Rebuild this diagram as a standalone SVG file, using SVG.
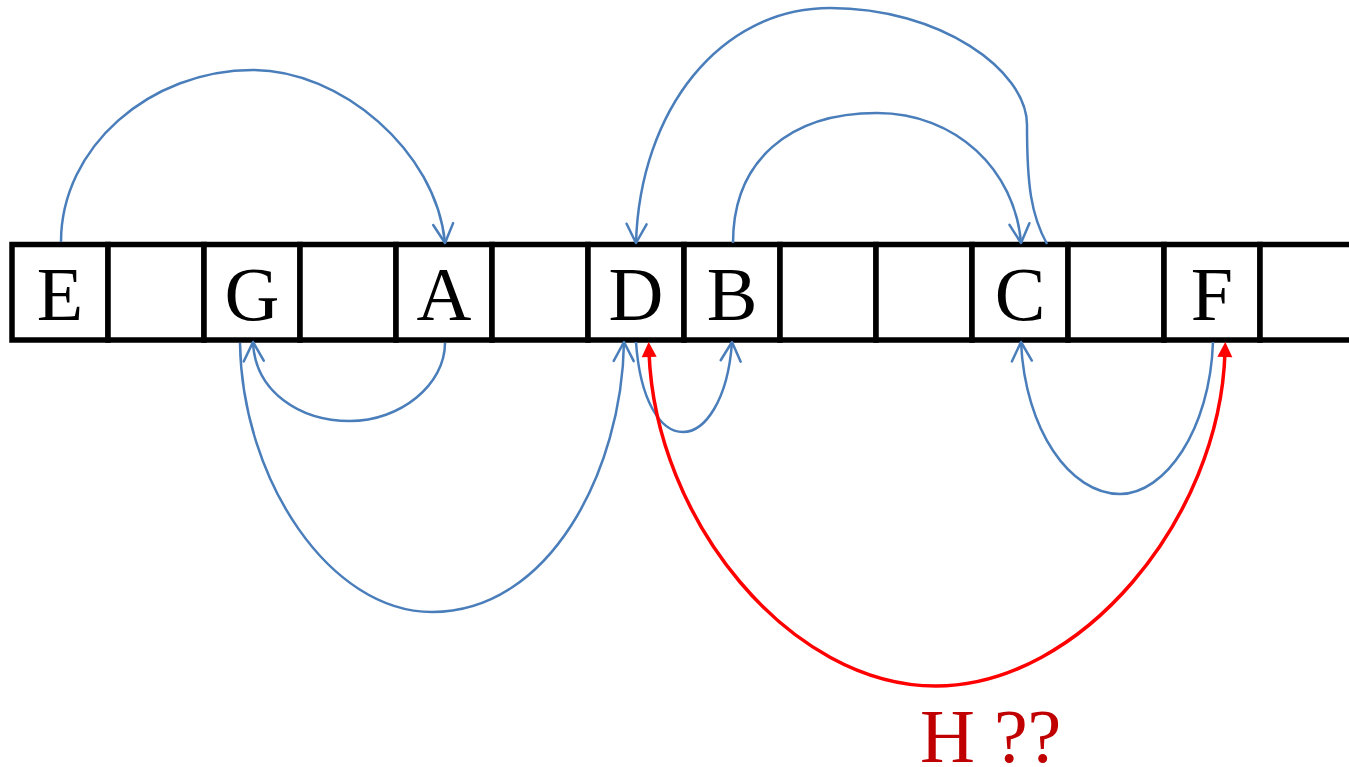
<svg xmlns="http://www.w3.org/2000/svg" width="1349" height="767" viewBox="0 0 1349 767">
<style>
.cell{fill:#fff;stroke:#000;stroke-width:5.5}
.lbl{font-family:"Liberation Serif","Times New Roman",serif;font-size:76px;fill:#000;text-anchor:middle}
.blue{fill:none;stroke:#4A7EBB;stroke-width:2.5;marker-end:url(#openArrow)}
.red{fill:none;stroke:#FF0000;stroke-width:3.5;marker-start:url(#redArrow);marker-end:url(#redArrow)}
.q{font-family:"Liberation Serif","Times New Roman",serif;font-size:76px;fill:#C00000}
</style>
<defs>
<marker id="openArrow" markerUnits="userSpaceOnUse" markerWidth="50" markerHeight="50" viewBox="-25 -25 50 50" refX="0" refY="0" orient="auto" overflow="visible">
<path d="M-19,-10 L0,0 L-19,10" fill="none" stroke="#4A7EBB" stroke-width="2.5" stroke-linecap="round" stroke-linejoin="round"/>
</marker>
<marker id="redArrow" markerUnits="userSpaceOnUse" markerWidth="50" markerHeight="50" viewBox="-25 -25 50 50" refX="0" refY="0" orient="auto-start-reverse" overflow="visible">
<path d="M10,0 L-5,-7.5 L-5,7.5 Z" fill="#FF0000"/>
</marker>
</defs>
<rect width="1349" height="767" fill="#fff"/>
<g id="cells">
<g id="cell-E"><rect class="cell" x="12" y="244.5" width="96" height="95.5"/><text class="lbl" x="60" y="320">E</text></g>
<g id="cell-1"><rect class="cell" x="108" y="244.5" width="96" height="95.5"/></g>
<g id="cell-G"><rect class="cell" x="204" y="244.5" width="96" height="95.5"/><text class="lbl" x="252" y="320">G</text></g>
<g id="cell-3"><rect class="cell" x="300" y="244.5" width="96" height="95.5"/></g>
<g id="cell-A"><rect class="cell" x="396" y="244.5" width="96" height="95.5"/><text class="lbl" x="444" y="320">A</text></g>
<g id="cell-5"><rect class="cell" x="492" y="244.5" width="96" height="95.5"/></g>
<g id="cell-D"><rect class="cell" x="588" y="244.5" width="96" height="95.5"/><text class="lbl" x="636" y="320">D</text></g>
<g id="cell-B"><rect class="cell" x="684" y="244.5" width="96" height="95.5"/><text class="lbl" x="732" y="320">B</text></g>
<g id="cell-8"><rect class="cell" x="780" y="244.5" width="96" height="95.5"/></g>
<g id="cell-9"><rect class="cell" x="876" y="244.5" width="96" height="95.5"/></g>
<g id="cell-C"><rect class="cell" x="972" y="244.5" width="96" height="95.5"/><text class="lbl" x="1020" y="320">C</text></g>
<g id="cell-11"><rect class="cell" x="1068" y="244.5" width="96" height="95.5"/></g>
<g id="cell-F"><rect class="cell" x="1164" y="244.5" width="96" height="95.5"/><text class="lbl" x="1212" y="320">F</text></g>
<g id="cell-13"><rect class="cell" x="1260" y="244.5" width="96" height="95.5"/></g>
</g>
<g id="connectors">
<path id="E-A" class="blue" d="M61,242 C61,147 150,70 253,70 C340,70 436,150 445,243"/>
<path id="B-C" class="blue" d="M733,243 C733,160 790,113 877,113 C956,113 1015,170 1021,243"/>
<path id="C-D" class="blue" d="M1047,244 C1031,215 1027,185 1027,125 C1027,70 940,8 830,8 C720,8 640,110 636,243"/>
<path id="A-G" class="blue" d="M445,343 C445,385 400,421 350,421 C300,421 255,392 253,342"/>
<path id="G-D" class="blue" d="M240,343 C242,480 330,612 432,612 C550,612 622,470 624,342"/>
<path id="D-B" class="blue" d="M636,342 C640,400 660,432 683,432 C705,432 728,400 732,342"/>
<path id="F-C" class="blue" d="M1213,342 C1210,430 1165,494 1120,494 C1070,494 1025,430 1021,342"/>
<path id="F-D-red" class="red" d="M1225,352 C1220,520 1080,686 936,686 C790,686 655,520 649,352"/>
</g>
<g id="label-H"><text class="q" x="920" y="762">H ??</text></g>
</svg>
